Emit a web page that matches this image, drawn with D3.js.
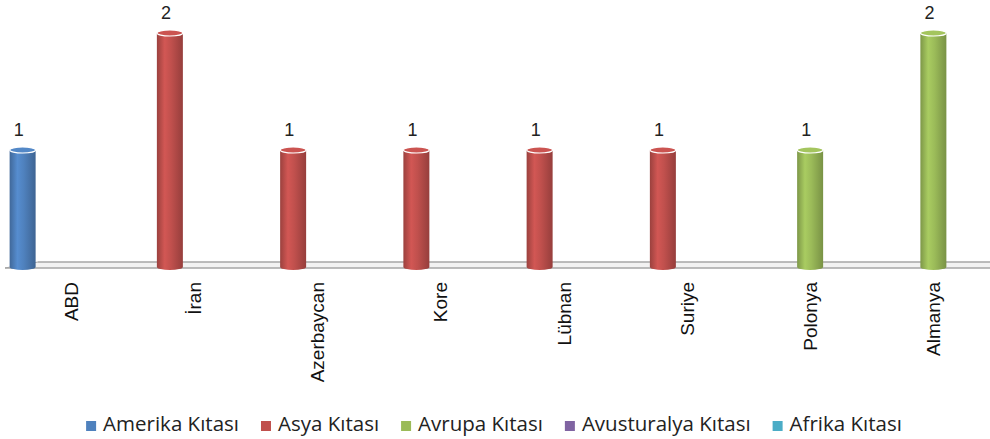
<!DOCTYPE html>
<html>
<head>
<meta charset="utf-8">
<script src="https://cdn.jsdelivr.net/npm/d3@7/dist/d3.min.js"></script>
<style>
  body { margin: 0; background: #fff; }
  svg { display: block; }
</style>
</head>
<body>
<svg id="chart"></svg>
<script>
// ulkeler ve kitalar
const countries = ["ABD", "İran", "Azerbaycan", "Kore", "Lübnan", "Suriye", "Polonya", "Almanya"];
const continents = ["Amerika Kıtası", "Asya Kıtası", "Avrupa Kıtası", "Avusturalya Kıtası", "Afrika Kıtası"];
const colors = ["#4F81BD", "#C0504D", "#9BBB59", "#8064A2", "#4BACC6"];
// her ulke icin kita ve deger
const countryContinent = ["Amerika Kıtası", "Asya Kıtası", "Asya Kıtası", "Asya Kıtası", "Asya Kıtası", "Asya Kıtası", "Avrupa Kıtası", "Avrupa Kıtası"];
const countryValues = [1, 2, 1, 1, 1, 1, 1, 2];

const width = 990, height = 439;
const svg = d3.select("#chart").attr("width", width).attr("height", height);
const defs = svg.append("defs");

var x0 = d3.scaleBand().domain(countries).range([9, 995]).padding(0);
var x1 = d3.scaleBand().domain(continents).range([-60, 60]).padding(0);
var y = d3.scaleLinear().domain([0, 2]).range([267, 33]);
var color = d3.scaleOrdinal().domain(continents).range(colors);

// gradients for cylinder body
colors.forEach((c, i) => {
    var g = defs.append("linearGradient").attr("id", "cyl" + i)
        .attr("x1", "0%").attr("x2", "100%").attr("y1", "0%").attr("y2", "0%");
    var base = d3.color(c);
    g.append("stop").attr("offset", "0%").attr("stop-color", base.darker(0.6));
    g.append("stop").attr("offset", "30%").attr("stop-color", base.brighter(0.25));
    g.append("stop").attr("offset", "55%").attr("stop-color", base);
    g.append("stop").attr("offset", "100%").attr("stop-color", base.darker(0.7));
});

// floor
var floorY = y(0);
svg.append("path")
    .attr("d", `M5,${floorY + 1} L38,${floorY - 5} L${width},${floorY - 5} L${width},${floorY + 1} Z`)
    .attr("fill", "#f2f2f2")
    .attr("stroke", "none");
svg.append("line").attr("x1", 38).attr("x2", width).attr("y1", floorY - 5).attr("y2", floorY - 5)
    .attr("stroke", "#a6a6a6").attr("stroke-width", 1.5);
svg.append("line").attr("x1", 5).attr("x2", width).attr("y1", floorY + 1).attr("y2", floorY + 1)
    .attr("stroke", "#a6a6a6").attr("stroke-width", 1.5);
svg.append("line").attr("x1", 5).attr("x2", 38).attr("y1", floorY + 1).attr("y2", floorY - 5)
    .attr("stroke", "#a6a6a6").attr("stroke-width", 1);

var data = countries.map((c, i) => ({ country: c, continent: countryContinent[i], value: countryValues[i] }));
var bw = 26, ry = 3;

var bars = svg.append("g").selectAll("g")
    .data(data)
    .enter().append("g")
    .attr("transform", d => "translate(" + (x0(d.country) + x0.bandwidth() / 2 + x1(d.continent) + x1.bandwidth() / 2) + ",0)");

bars.append("path")
    .attr("d", function (d) {
        var top = y(d.value), bot = y(0);
        return `M${-bw / 2},${top} L${-bw / 2},${bot} A${bw / 2},${ry} 0 0 0 ${bw / 2},${bot} L${bw / 2},${top} Z`;
    })
    .attr("fill", d => "url(#cyl" + continents.indexOf(d.continent) + ")");

bars.append("ellipse")
    .attr("cx", 0).attr("cy", d => y(d.value))
    .attr("rx", bw / 2).attr("ry", ry)
    .attr("fill", d => d3.color(color(d.continent)).brighter(0.15))
    .attr("stroke", "#fff").attr("stroke-width", 1.2);

bars.append("text")
    .attr("x", -4).attr("y", d => y(d.value) - 14)
    .attr("text-anchor", "middle")
    .style("font", "18px 'Liberation Sans', Arial, sans-serif")
    .attr("fill", "#222")
    .text(d => d.value);

// category labels
svg.append("g").selectAll("text")
    .data(countries)
    .enter().append("text")
    .attr("transform", d => "translate(" + (x0(d) + x0.bandwidth() / 2 + 7) + ",282) rotate(-90)")
    .attr("text-anchor", "end")
    .style("font", "19px 'Liberation Sans', Arial, sans-serif")
    .attr("fill", "#111")
    .text(d => d);

// legend
var legend = svg.append("g");
var lx = 0;
var items = legend.selectAll("g").data(continents).enter().append("g");
items.append("rect").attr("width", 10).attr("height", 10).attr("y", -10).attr("fill", d => color(d));
items.append("text").attr("x", 17).attr("y", 0)
    .style("font", "20.5px 'Open Sans', sans-serif")
    .attr("fill", "#222")
    .text(d => d);
items.each(function () {
    var w = d3.select(this).select("text").node().getComputedTextLength();
    d3.select(this).attr("transform", "translate(" + lx + ",0)");
    lx += 17 + w + 22;
});
lx -= 22;
legend.attr("transform", "translate(" + (494 - lx / 2) + ",431)");
</script>
</body>
</html>
